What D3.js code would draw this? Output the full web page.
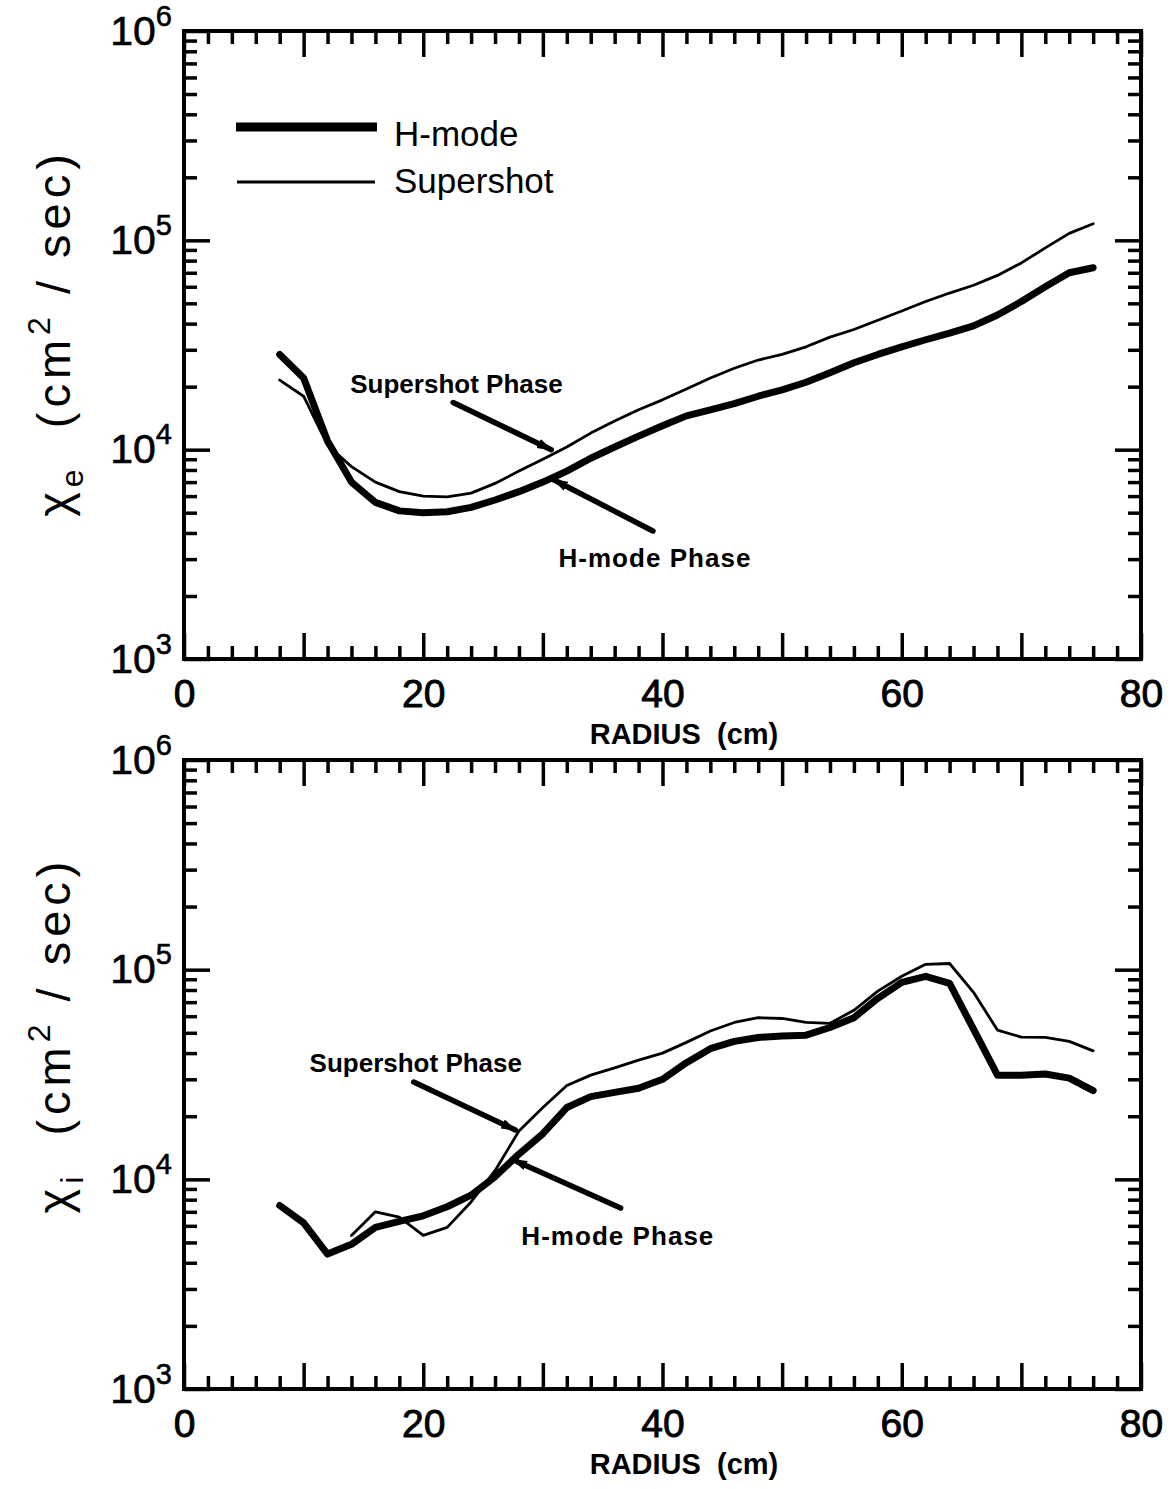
<!DOCTYPE html>
<html>
<head>
<meta charset="utf-8">
<script src="https://cdn.jsdelivr.net/npm/d3@7"></script>
<style>
  body { margin: 0; background: #fff; }
  text { font-family: "Liberation Sans", Arial, Helvetica, sans-serif; fill: #000; }
</style>
</head>
<body>
<svg id="chart"></svg>
<script>
// ---- data ----
const radiusH = [8,10,12,14,16,18,20,22,24,26,28,30,32,34,36,38,40,42,44,46,48,50,52,54,56,58,60,62,64,66,68,70,72,74,76];
const radiusS = [8,10,12,14,16,18,20,22,24,26,28,30,32,34,36,38,40,42,44,46,48,50,52,54,56,58,60,62,64,66,68,70,72,74,76];
const chiE_hmode = [28500,22000,11000,7000,5600,5100,5000,5050,5300,5750,6300,7000,7900,9100,10300,11600,13000,14500,15500,16600,18000,19300,21000,23300,26000,28500,31000,33500,36000,39000,44000,51000,60000,70000,74000];
const chiE_supershot = [21500,18000,10500,8300,7000,6300,6000,5950,6200,6900,7900,9000,10300,12000,13700,15500,17300,19500,22000,24500,26800,28500,31000,34500,37500,41500,46000,51000,56000,61000,68000,78000,92000,108000,120000];

const radiusIH = [8,10,12,14,16,18,20,22,24,26,28,30,32,34,36,38,40,42,44,46,48,50,52,54,56,58,60,62,64,66,68,70,72,74,76];
const radiusIS = [14,16,18,20,22,24,26,28,30,32,34,36,38,40,42,44,46,48,50,52,54,56,58,60,62,64,66,68,70,72,74,76];
const chiI_hmode = [7500,6200,4400,4900,5900,6300,6700,7400,8400,10300,13200,16500,22000,24800,26000,27200,30000,36000,42000,45500,47500,48300,48700,53000,59000,73000,87000,93000,86000,52000,31400,31400,31800,30400,26500];
const chiI_supershot = [5400,7000,6600,5400,5900,7800,11000,17000,22000,28000,31400,34000,37000,40000,45000,51000,56000,59000,58500,56000,55500,64000,79000,93000,106000,107000,78000,51500,47700,47500,45500,41000];

const xMajor = [0,10,20,30,40,50,60,70,80];
const xLabels = [0,20,40,60,80];
const yDecades = [1e3,1e4,1e5,1e6];

// annotation anchors in data units: [radius, chi]
const topSuperText = [13.9, 18700], topSuperArrow = [[22.5,16800],[30.7,10000]];
const topHText = [31.3, 2750], topHArrow = [[39.2,4090],[30.9,7180]];
const botSuperText = [10.5, 32500], botSuperArrow = [[19.2,29100],[27.7,17200]];
const botHText = [28.2, 4860], botHArrow = [[36.5,7290],[27.5,12400]];

const W = 1174, H = 1489;
const left = 184, right = 1141;

const svg = d3.select("#chart").attr("width", W).attr("height", H);
svg.append("rect").attr("width", W).attr("height", H).attr("fill", "#fff");

const defs = svg.append("defs");
defs.append("marker")
    .attr("id", "head")
    .attr("markerUnits", "userSpaceOnUse")
    .attr("viewBox", "0 -6 16 12")
    .attr("refX", 14).attr("refY", 0)
    .attr("markerWidth", 16).attr("markerHeight", 12)
    .attr("orient", "auto")
    .append("path")
    .attr("d", "M0,-5L16,0L0,5Z")
    .attr("fill", "#000");

const minorY = [];
[1e3,1e4,1e5].forEach(d => { for (let k = 2; k <= 9; k++) minorY.push(d * k); });
const minorX = d3.range(2, 80, 2).filter(v => v % 10 !== 0);

function drawPanel(cfg) {
    const x = d3.scaleLinear().domain([0, 80]).range([left, right]);
    const y = d3.scaleLog().domain([1e3, 1e6]).range([cfg.bottom, cfg.top]);
    const g = svg.append("g");

    const styleTicks = sel => {
        sel.select(".domain").remove();
        sel.selectAll(".tick line").attr("stroke", "#000").attr("stroke-width", 3.5);
    };

    // bottom axis
    g.append("g").attr("transform", `translate(0,${cfg.bottom})`)
        .call(d3.axisBottom(x).tickValues(minorX).tickSize(-13).tickFormat(""))
        .call(styleTicks);
    const gx = g.append("g").attr("transform", `translate(0,${cfg.bottom})`)
        .call(d3.axisBottom(x).tickValues(xMajor).tickSize(-26).tickPadding(20)
            .tickFormat(d => xLabels.includes(d) ? d : ""))
        .call(styleTicks);
    gx.selectAll(".tick text")
        .attr("font-size", 39).attr("font-family", "Liberation Sans, Arial, sans-serif")
        .attr("fill", "#000").attr("stroke", "#000").attr("stroke-width", 0.9);

    // top axis
    g.append("g").attr("transform", `translate(0,${cfg.top})`)
        .call(d3.axisTop(x).tickValues(minorX).tickSize(-13).tickFormat(""))
        .call(styleTicks);
    g.append("g").attr("transform", `translate(0,${cfg.top})`)
        .call(d3.axisTop(x).tickValues(xMajor).tickSize(-26).tickFormat(""))
        .call(styleTicks);

    // left axis
    g.append("g").attr("transform", `translate(${left},0)`)
        .call(d3.axisLeft(y).tickValues(minorY).tickSize(-13).tickFormat(""))
        .call(styleTicks);
    const gy = g.append("g").attr("transform", `translate(${left},0)`)
        .call(d3.axisLeft(y).tickValues(yDecades).tickSize(-26).tickPadding(12))
        .call(styleTicks);
    gy.selectAll(".tick text").each(function (d) {
        const t = d3.select(this)
            .attr("font-size", 41).attr("font-family", "Liberation Sans, Arial, sans-serif")
            .attr("fill", "#000").attr("stroke", "#000").attr("stroke-width", 0.6);
        t.text(null);
        t.append("tspan").text("10");
        t.append("tspan").attr("dy", -19).attr("font-size", 29).text(Math.round(Math.log10(d)));
    });

    // right axis
    g.append("g").attr("transform", `translate(${right},0)`)
        .call(d3.axisRight(y).tickValues(minorY).tickSize(-13).tickFormat(""))
        .call(styleTicks);
    g.append("g").attr("transform", `translate(${right},0)`)
        .call(d3.axisRight(y).tickValues(yDecades).tickSize(-26).tickFormat(""))
        .call(styleTicks);

    // frame
    g.append("rect")
        .attr("x", left).attr("y", cfg.top)
        .attr("width", right - left).attr("height", cfg.bottom - cfg.top)
        .attr("fill", "none").attr("stroke", "#000").attr("stroke-width", 4);

    // curves
    const line = d3.line().x(d => x(d[0])).y(d => y(d[1]));
    g.append("path")
        .datum(d3.zip(cfg.xs, cfg.ys))
        .attr("d", line)
        .attr("fill", "none").attr("stroke", "#000").attr("stroke-width", 2.8)
        .attr("stroke-linejoin", "round").attr("stroke-linecap", "round");
    g.append("path")
        .datum(d3.zip(cfg.xh, cfg.yh))
        .attr("d", line)
        .attr("fill", "none").attr("stroke", "#000").attr("stroke-width", 7)
        .attr("stroke-linejoin", "round").attr("stroke-linecap", "round");

    // annotations
    [cfg.superArrow, cfg.hArrow].forEach(a => {
        g.append("line")
            .attr("x1", x(a[0][0])).attr("y1", y(a[0][1]))
            .attr("x2", x(a[1][0])).attr("y2", y(a[1][1]))
            .attr("stroke", "#000").attr("stroke-width", 5.5)
            .attr("stroke-linecap", "round")
            .attr("marker-end", "url(#head)");
    });
    g.append("text").attr("x", x(cfg.superText[0])).attr("y", y(cfg.superText[1]))
        .attr("font-size", 26).attr("font-weight", "bold").text("Supershot Phase");
    g.append("text").attr("x", x(cfg.hText[0])).attr("y", y(cfg.hText[1]))
        .attr("font-size", 26).attr("font-weight", "bold")
        .attr("textLength", 192).attr("lengthAdjust", "spacing").text("H-mode Phase");

    // x axis title
    g.append("text")
        .attr("x", 684).attr("y", cfg.bottom + 85)
        .attr("text-anchor", "middle")
        .attr("font-size", 29).attr("font-weight", "bold")
        .attr("xml:space", "preserve")
        .text("RADIUS  (cm)");

    // y axis title
    const yl = g.append("text")
        .attr("transform", `translate(70,${cfg.labelY}) rotate(-90)`)
        .attr("text-anchor", "middle")
        .attr("font-size", 47)
        .attr("letter-spacing", 5)
        .attr("xml:space", "preserve");
    yl.append("tspan").text("\u03C7");
    yl.append("tspan").attr("dy", 13).attr("font-size", 32).text(cfg.sub);
    yl.append("tspan").attr("dy", -13).text("  (cm");
    yl.append("tspan").attr("dy", -20).attr("font-size", 32).text("2");
    yl.append("tspan").attr("dy", 20).text(" / sec)");

    return { x, y, g };
}

const topPanel = drawPanel({
    top: 31, bottom: 659, labelY: 333, sub: "e",
    xh: radiusH, yh: chiE_hmode, xs: radiusS, ys: chiE_supershot,
    superText: topSuperText, superArrow: topSuperArrow, hText: topHText, hArrow: topHArrow
});

drawPanel({
    top: 760, bottom: 1389, labelY: 1035, sub: "i",
    xh: radiusIH, yh: chiI_hmode, xs: radiusIS, ys: chiI_supershot,
    superText: botSuperText, superArrow: botSuperArrow, hText: botHText, hArrow: botHArrow
});

// legend (top panel)
const lg = topPanel.g.append("g");
lg.append("line").attr("x1", 236).attr("x2", 377).attr("y1", 127).attr("y2", 127)
    .attr("stroke", "#000").attr("stroke-width", 9);
lg.append("line").attr("x1", 237).attr("x2", 375).attr("y1", 182).attr("y2", 182)
    .attr("stroke", "#000").attr("stroke-width", 2.8);
lg.append("text").attr("x", 394).attr("y", 146).attr("font-size", 35).text("H-mode");
lg.append("text").attr("x", 394).attr("y", 193).attr("font-size", 35).text("Supershot");
</script>
</body>
</html>
